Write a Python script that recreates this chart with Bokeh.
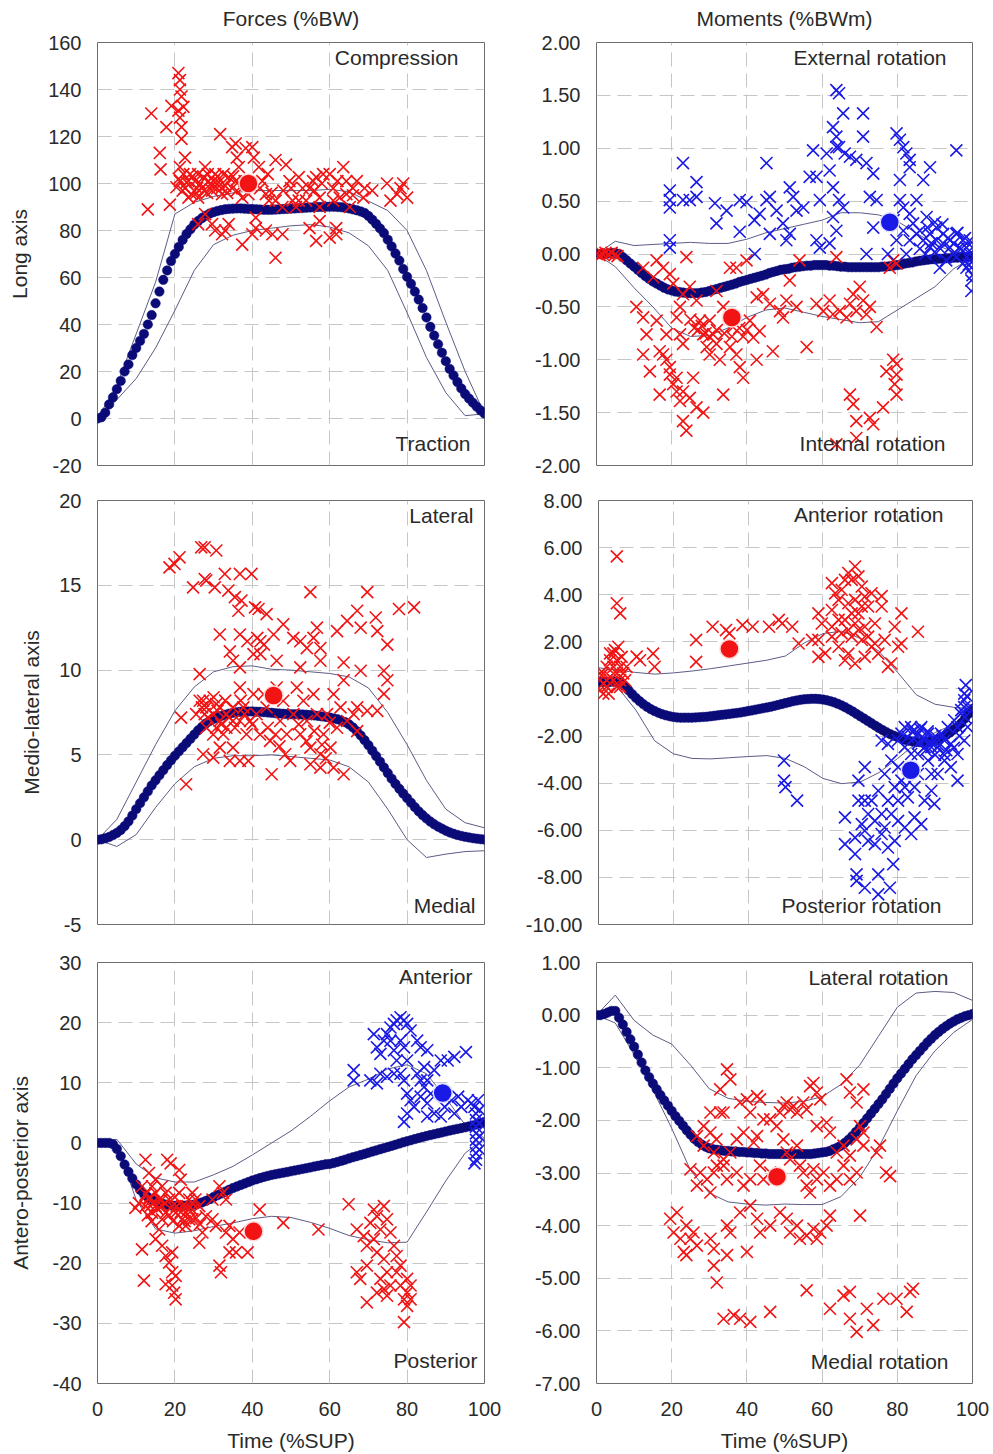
from bokeh.plotting import figure
from bokeh.layouts import column, row
from bokeh.models import Range1d, FixedTicker, NumeralTickFormatter, Label
from bokeh.embed import file_html
from bokeh.resources import INLINE

FONT = "Liberation Sans"
TXT = "#2a2a2a"

# ---------------- shared axes data ----------------
T = list(range(101))            # time grid of the mean curves (%SUP)
T5 = list(range(0, 101, 5))     # time grid of the +/- SD curves
X_TICKS = [0, 20, 40, 60, 80, 100]
COLUMN_TITLES = ["Forces (%BW)", "Moments (%BWm)"]

# ---------------- Panel 1: Forces, long axis ----------------
P1_MEAN = [0, 0.5, 2.5, 6, 9, 12.5, 16, 20, 23, 27,
           30, 33, 36, 40, 44, 49, 54, 59, 63, 67,
           70, 73, 76, 78.5, 80.5, 82.5, 84, 85.3, 86.3, 87.2,
           87.8, 88.3, 88.7, 89, 89.2, 89.3, 89.4, 89.4, 89.3, 89.2,
           89.1, 89, 88.9, 88.8, 88.8, 88.8, 88.9, 89, 89.1, 89.2,
           89.3, 89.4, 89.5, 89.6, 89.7, 89.8, 89.9, 90, 90, 90.1,
           90.1, 90.1, 90.0, 89.9, 89.7, 89.4, 89.0, 88.6, 88.1, 87.5,
           86.2, 84.6, 82.8, 80.9, 78.9, 76.1, 73.2, 70.2, 67.2, 63.6,
           60.3, 57.3, 54, 50.6, 47, 43, 39, 35.3, 31.6, 28,
           24.4, 21.1, 18.3, 15.5, 12.8, 10.4, 8.5, 6.7, 5.0, 3.4,
           2.1]
P1_UP = [0, 14, 36, 58, 87, 92, 94.5, 96, 97, 97, 97, 97, 97.5, 96.5, 92.5, 88.5, 80, 63, 41, 20, 2]
P1_LO = [0, 8, 17, 30, 46, 63, 74, 78, 80, 81, 82, 82.5, 81.5, 79, 73.5, 63, 45, 26, 11, 1.2, 2]
P1_RED = [(13.9, 129.8), (13, 89), (16.1, 113), (16.3, 106), (17.8, 124), (19.1, 133), (18.7, 91),
          (20.9, 147), (21.3, 144), (21.3, 140), (21.7, 137), (20.9, 131), (21.3, 128), (22.2, 132.6),
          (21.7, 124), (21.7, 119), (22.6, 111), (21.3, 107), (21.3, 101), (22.6, 98), (23.5, 94),
          (23.9, 104), (25.2, 101), (26, 104), (27, 98), (27.8, 107), (28.7, 101), (29.6, 97), (30.4, 104),
          (31.3, 100.5), (31.7, 121), (32.2, 95.5), (33, 99), (33.9, 102.7), (34.8, 115.5), (35.7, 117),
          (36, 111), (36.5, 107), (37.4, 98), (38.3, 115), (40, 115.5), (40.4, 111), (41.7, 107),
          (42.6, 101), (43.5, 95.5), (44.3, 92.7), (46, 110), (48.7, 108), (49.6, 101), (50.4, 92.7),
          (51.3, 90), (52, 102.7), (53, 98), (53.9, 92.7), (55.7, 101), (56.5, 102.7), (57.4, 94),
          (58.3, 104), (60, 104), (60.9, 98), (62.6, 94), (63.5, 107), (64.3, 101), (66, 98), (67, 101),
          (68.7, 94), (74.8, 100), (75.7, 92.7), (77.4, 95.5), (78.3, 98), (79, 100), (80, 94),
          (26, 82.7), (27.8, 87), (29.6, 82.7), (30.4, 80), (32.2, 78.4), (33, 80), (33.9, 82.7),
          (37.4, 74), (40, 78.4), (40.9, 81), (40.9, 85.5), (43.5, 80), (45.2, 78.4), (46, 68.4),
          (47.8, 78.4), (54.8, 81), (56.5, 75.6), (57.4, 84), (60, 77), (61.7, 81), (61.7, 78.4),
          (20.4, 98.4), (22.2, 104), (23, 100.5), (24.3, 95.5), (25.7, 98), (26, 94), (27.4, 102.7),
          (28.3, 96), (30, 101), (30.9, 98), (32.6, 104), (34.8, 98), (35.7, 101), (37.4, 94), (39, 95.5),
          (46, 92.7), (47.8, 90), (52, 92.7), (54.8, 98), (57.4, 90), (60.9, 92.7), (65.2, 90), (64.3, 95.5),
          (21, 102), (22, 97), (23.5, 101), (24.5, 103), (25.5, 96), (26.5, 100), (27.5, 97), (28.5, 104),
          (29.5, 99), (31, 103), (32, 98), (33.5, 96), (35, 103), (36, 97), (38, 101), (42, 98), (44, 104),
          (45, 96), (48, 97), (50, 98), (56, 97), (58, 100), (62, 101), (66, 95), (69, 98), (71, 97)]
P1_BLUE = []
P1_RED_MEAN = (39, 100)
P1_BLUE_MEAN = None

# ---------------- Panel 2: Moments, long axis ----------------
P2_MEAN = [0, 0, 0, 0.005, 0.01, 0.01, 0.0, -0.03, -0.06, -0.09,
           -0.12, -0.15, -0.18, -0.21, -0.235, -0.26, -0.28, -0.30, -0.32, -0.335,
           -0.345, -0.355, -0.36, -0.365, -0.37, -0.37, -0.37, -0.37, -0.365, -0.36,
           -0.35, -0.34, -0.33, -0.32, -0.31, -0.30, -0.29, -0.28, -0.265, -0.255,
           -0.245, -0.235, -0.225, -0.215, -0.205, -0.195, -0.18, -0.17, -0.16, -0.15,
           -0.145, -0.14, -0.13, -0.125, -0.12, -0.115, -0.11, -0.11, -0.105, -0.105,
           -0.105, -0.105, -0.11, -0.11, -0.115, -0.12, -0.12, -0.125, -0.125, -0.125,
           -0.125, -0.125, -0.125, -0.125, -0.125, -0.125, -0.12, -0.12, -0.115, -0.11,
           -0.105, -0.1, -0.09, -0.085, -0.08, -0.07, -0.065, -0.06, -0.055, -0.05,
           -0.05, -0.045, -0.045, -0.04, -0.04, -0.035, -0.035, -0.03, -0.03, -0.025,
           -0.02]
P2_UP = [0, 0.12, 0.08, 0.09, 0.1, 0.11, 0.1, 0.1, 0.14, 0.2, 0.24, 0.28, 0.32, 0.39, 0.39, 0.37, 0.31, 0.2, 0.09, 0.02, 0]
P2_LO = [0, -0.12, -0.32, -0.5, -0.7, -0.78, -0.77, -0.7, -0.6, -0.53, -0.51, -0.55, -0.59, -0.62, -0.65, -0.64, -0.53, -0.42, -0.31, -0.14, -0.03]
P2_RED = [(0, 0), (0.8, -0.01), (1.6, 0), (2.4, 0.01), (3.2, 0), (4, 0.01), (4.8, -0.01), (5.6, -0.02),
          (10.6, -0.5), (12.4, -0.6), (13.3, -0.76), (12.4, -0.95), (14.2, -1.11), (16, -0.63), (16.8, -0.92),
          (16.8, -1.33), (17.7, -0.95), (18.6, -0.76), (18.6, -1.0), (19.5, -1.07), (19.5, -1.14), (20.4, -1.23),
          (21.3, -1.17), (21.3, -1.3), (22.2, -1.39), (23, -1.58), (23.9, -1.67), (23, -1.3), (24.8, -1.36),
          (26.6, -1.45), (28.4, -1.5), (25.7, -1.17), (23, -0.85), (22.2, -0.76), (21.3, -0.6), (22.2, -0.5),
          (23, -0.38), (20.4, -0.28), (19.5, -0.19), (17.7, -0.13), (16, -0.06), (12.4, -0.13), (15.1, -0.22),
          (23.9, -0.03), (24.8, -0.31), (26.6, -0.44), (27.5, -0.63), (28.4, -0.76), (29.3, -0.88),
          (30.1, -0.63), (31, -0.76), (30.1, -0.95), (31.9, -0.85), (32.8, -1.0), (33.7, -1.33), (31.9, -0.35),
          (33.7, -0.5), (35.5, -0.6), (35.5, -0.88), (36.3, -0.69), (37.2, -0.95), (38.1, -1.07), (39, -1.17),
          (37.2, -0.13), (35.5, -0.13), (39.9, -0.06), (40.8, -0.63), (41.7, -0.79), (42.6, -1.0),
          (43.4, -0.73), (42.6, -0.41), (44.3, -0.38), (46.1, -0.47), (46.9, -0.92), (48.8, -0.54),
          (49.6, -0.6), (50.5, -0.44), (53.2, -0.5), (51.4, -0.25), (54, -0.06), (55.9, -0.88), (58.5, -0.47),
          (60.3, -0.54), (62, -0.44), (62.9, -0.57), (64.7, -0.54), (66.5, -0.6), (67.4, -0.47), (68.3, -0.38),
          (69.1, -0.54), (70, -0.31), (70.9, -0.44), (71.8, -0.57), (72.7, -0.5), (74.5, -0.69), (67.4, -1.33),
          (68.3, -1.42), (69.1, -1.58), (72.7, -1.55), (73.6, -1.61), (63.8, -1.8), (69.1, -1.74),
          (76.2, -1.45), (77.1, -1.11), (78.9, -1.0), (79.8, -1.04), (79.8, -1.14), (79.3, -1.23),
          (79.8, -1.33), (78.9, -0.06), (78, -0.13), (79.8, -0.09), (63.8, -0.03),
          (26, -0.7), (27, -0.72), (28, -0.68), (29, -0.75), (25, -0.62), (30, -0.78), (32, -0.72),
          (34, -0.75), (36, -0.78), (38, -0.7), (39, -0.78), (40, -0.72)]
P2_BLUE = [(19.5, 0.60), (19.5, 0.51), (19.5, 0.44), (19.5, 0.13), (19.5, 0.06), (23, 0.86), (23, 0.51),
           (24.8, 0.51), (26.6, 0.68), (26.6, 0.54), (31.5, 0.48), (31.9, 0.29), (34.6, 0.41), (38.1, 0.51),
           (38.1, 0.21), (39.9, 0.49), (42.0, 0.32), (43.4, 0.38), (42.1, 0.0), (45.2, 0.86), (45.2, 0.51),
           (46.1, 0.54), (46.1, 0.19), (47.9, 0.41), (49.6, 0.29), (51.4, 0.63), (51.4, 0.19), (50.5, 0.13),
           (52.3, 0.54), (53.2, 0.41), (55, 0.44), (56.7, 0.73), (57.6, 0.98), (58.5, 0.73), (59.4, 0.51),
           (58.5, 0.13), (59.4, 0.06), (61.2, 0.95), (62, 0.79), (62.9, 0.63), (62.9, 0.35), (63.8, 1.55),
           (64.5, 1.52), (62.9, 1.2), (63.8, 1.11), (63.8, 1.01), (64.5, 1.01), (66, 0.95), (67.4, 0.92),
           (64.5, 0.51), (65.6, 0.44), (63.8, 0.22), (62, 0.10), (65.6, 1.33), (69.1, 0.89), (70.9, 1.33),
           (70.9, 1.11), (71.8, 0.86), (73.6, 0.76), (72.7, 0.54), (74.5, 0.51), (71.8, 0.0), (73.6, 0.25),
           (79, 0.32), (79.8, 1.14), (80.7, 1.08), (81.6, 1.01), (82.4, 0.95), (83.3, 0.89), (83.3, 0.82),
           (80.7, 0.70), (80.7, 0.51), (81.6, 0.44), (83.3, 0.38), (85.1, 0.51), (86.9, 0.70), (88.7, 0.82),
           (84.2, 0.29), (86, 0.22), (87.8, 0.35), (88.7, 0.19), (90.4, 0.25), (92.2, 0.19), (94, 0.13),
           (95.7, 0.98), (95.7, 0.19), (97.5, 0.13), (98.4, 0.06), (99.3, 0.0), (99.7, -0.13), (99.7, -0.25),
           (99.7, -0.35), (97.5, -0.09), (95.7, -0.03), (94, 0.06), (92.2, 0.10), (90.4, 0.13), (88.7, 0.06),
           (86.9, 0.13), (85.1, 0.19), (83.3, 0.13), (81.6, 0.22), (79.8, 0.13), (82.4, 0.0), (77.5, 0.0),
           (91.3, -0.13), (93, -0.06), (99.3, -0.06), (98.4, -0.13), (96.5, 0.06), (94.9, 0.0), (99.3, 0.13),
           (100, 0.06), (86, 0.05), (87.5, 0.0), (89, 0.1), (90, 0.02), (91.5, 0.05), (93.5, 0.15), (95, 0.1),
           (96, 0.2), (97, 0.05), (98, 0.15), (99, -0.1), (100, -0.2), (88, 0.25), (90, 0.3), (92, 0.28)]
P2_RED_MEAN = (36, -0.6)
P2_BLUE_MEAN = (78, 0.30)

# ---------------- Panel 3: Forces, medio-lateral axis ----------------
P3_MEAN = [0, 0.02, 0.08, 0.16, 0.27, 0.4, 0.57, 0.8, 1.08, 1.42,
           1.8, 2.15, 2.5, 2.85, 3.2, 3.5, 3.8, 4.1, 4.4, 4.68,
           4.95, 5.2, 5.45, 5.7, 5.95, 6.2, 6.45, 6.65, 6.85, 7.0,
           7.12, 7.22, 7.3, 7.37, 7.43, 7.48, 7.52, 7.54, 7.55, 7.56,
           7.56, 7.55, 7.54, 7.52, 7.5, 7.48, 7.46, 7.44, 7.42, 7.41,
           7.4, 7.4, 7.39, 7.38, 7.37, 7.35, 7.33, 7.3, 7.27, 7.24,
           7.2, 7.15, 7.1, 7.02, 6.93, 6.8, 6.62, 6.4, 6.15, 5.87,
           5.57, 5.25, 4.93, 4.6, 4.26, 3.93, 3.6, 3.29, 3.0, 2.72,
           2.45, 2.18, 1.92, 1.67, 1.45, 1.25, 1.07, 0.91, 0.77, 0.65,
           0.53, 0.43, 0.35, 0.28, 0.22, 0.17, 0.13, 0.09, 0.06, 0.03,
           0.01]
P3_UP = [0, 1.2, 3.4, 5.6, 7.6, 9.0, 9.9, 10.2, 10.25, 10.05, 10.0, 9.9, 9.8, 9.6, 8.95, 7.5, 5.6, 3.5, 1.8, 1.0, 0.7]
P3_LO = [0, -0.4, 0.3, 1.9, 3.3, 4.3, 4.8, 4.95, 4.95, 5.0, 4.9, 4.8, 4.7, 4.3, 3.4, 1.8, 0.0, -1.05, -0.85, -0.7, -0.65]
P3_RED = [(18.6, 16.06), (19.9, 16.26), (21.2, 16.65), (26.8, 17.24), (27.7, 17.24), (30.7, 17.05), (24.7, 14.88),
          (27.7, 15.37), (28.1, 15.28), (30.3, 14.88), (32.9, 15.67), (36.8, 15.67), (39.8, 15.67), (33.8, 14.69),
          (35.5, 14.3), (37.2, 14.1), (36.4, 13.5), (40.7, 13.7), (41.6, 13.6), (43.7, 13.3), (31.6, 12.1),
          (36.8, 12.1), (38.7, 11.7), (41.3, 11.9), (42.1, 11.7), (43, 11.5), (45.5, 12.1), (48, 12.7),
          (42.1, 10.94), (40.3, 10.94), (34.2, 11.1), (35, 10.55), (36.8, 10.16), (46.3, 10.55), (50.6, 11.9),
          (52.4, 11.7), (54.1, 11.3), (55.8, 11.9), (56.7, 12.5), (57.6, 11.3), (55, 14.6), (52.4, 10.16),
          (57.6, 10.55), (61.9, 12.3), (64.5, 12.9), (67.1, 13.5), (68, 12.5), (69.7, 14.6), (71.9, 13.1),
          (72.3, 12.3), (74.9, 11.5), (63.6, 10.45), (68, 9.96), (63.6, 9.4), (74, 9.96), (74.9, 9.4),
          (77.9, 13.6), (81.8, 13.7), (74, 8.6), (69.7, 7.6), (72.3, 7.6), (67.1, 6.4), (63.6, 3.86),
          (21.6, 7.2), (22.9, 3.27), (26.4, 9.76), (27.3, 8.19), (28.1, 7.8), (29, 8.19), (29.9, 7.4),
          (30.7, 8), (31.6, 7.0), (28.1, 6.6), (29.9, 6.2), (27.3, 5.04), (29.9, 4.84), (31.6, 5.43),
          (33.3, 6.6), (35, 7.0), (34.2, 4.65), (36.8, 8.97), (37.7, 7.8), (38.5, 6.22), (39.4, 7.0),
          (39, 4.65), (40.3, 8.58), (41.1, 7.4), (42, 6.2), (42.9, 8.58), (43.7, 7.8), (44.6, 5.83),
          (45, 3.86), (46.3, 8.97), (47.2, 7.0), (48, 8.19), (48.5, 5.04), (48.9, 6.22), (49.8, 4.65),
          (50.6, 7.4), (51.5, 8.97), (52.4, 6.22), (53.2, 8.19), (54.1, 7.0), (55, 5.43), (55.8, 8.58),
          (56.7, 7.4), (57.6, 5.04), (58.4, 6.22), (57.6, 4.25), (59.3, 7.4), (60.2, 5.43), (61, 8.58),
          (61.9, 6.6), (62.8, 7.8), (64.5, 7.0), (66.2, 7.4), (67.1, 7.8), (61, 4.25), (55, 4.45),
          (26.4, 8.19), (27.7, 7.4), (31.6, 7.8), (33.3, 7.4), (35, 7.8), (36.8, 7.0), (30.7, 6.6),
          (32.5, 6.22), (25.5, 7.4), (35, 5.43), (36.8, 4.65),
          (27, 7.8), (28.5, 7.2), (30, 8.4), (31, 7.6), (32, 6.8), (33, 8.2), (34, 7.2), (35.5, 6.6),
          (37, 8.2), (38, 7.4), (40, 6.8), (44, 6.6), (46, 6.2), (47, 5.5), (52, 6.8), (54, 5.8),
          (56, 6.4), (58, 5.6), (59, 4.8), (60, 6.9)]
P3_BLUE = []
P3_RED_MEAN = (45.5, 8.5)
P3_BLUE_MEAN = None

# ---------------- Panel 4: Moments, medio-lateral axis ----------------
P4_MEAN = [0.3, 0.3, 0.3, 0.3, 0.32, 0.3, 0.25, 0.12, -0.05, -0.22,
           -0.38, -0.52, -0.65, -0.76, -0.86, -0.94, -1.01, -1.07, -1.12, -1.16,
           -1.19, -1.21, -1.22, -1.22, -1.22, -1.22, -1.21, -1.2, -1.19, -1.18,
           -1.16, -1.14, -1.12, -1.1, -1.08, -1.06, -1.04, -1.02, -1.0, -0.97,
           -0.94, -0.91, -0.88, -0.85, -0.82, -0.79, -0.76, -0.72, -0.68, -0.64,
           -0.6, -0.56, -0.52, -0.49, -0.46, -0.44, -0.43, -0.42, -0.42, -0.43,
           -0.45, -0.48, -0.52, -0.57, -0.63, -0.7, -0.78, -0.87, -0.96, -1.06,
           -1.16, -1.26, -1.36, -1.46, -1.56, -1.66, -1.75, -1.84, -1.92, -1.99,
           -2.05, -2.11, -2.16, -2.2, -2.23, -2.25, -2.26, -2.26, -2.25, -2.22,
           -2.18, -2.12, -2.04, -1.95, -1.85, -1.73, -1.6, -1.45, -1.25, -1.05,
           -0.85]
P4_UP = [0.9, 0.8, 0.7, 0.63, 0.68, 0.76, 0.86, 0.98, 1.1, 1.22, 1.4, 1.95, 2.35, 2.45, 2.15, 1.6, 0.7, -0.25, -0.65, -0.78, -0.84]
P4_LO = [0.2, 0.1, -0.9, -2.2, -2.75, -2.95, -2.97, -2.92, -2.87, -2.83, -2.95, -3.3, -3.8, -4.02, -3.95, -3.55, -2.95, -2.3, -1.85, -1.5, -1.05]
P4_RED = [(4.9, 5.63), (4.9, 3.64), (5.8, 3.21), (5.3, 1.79),
          (0.4, 0.37), (1.3, 0.66), (2.2, 0.94), (3.1, 1.22), (4, 1.51), (4.9, 1.22), (5.8, 0.94), (6.6, 0.66),
          (2.2, 0.09), (4, 0.37), (5.8, 0.09), (0.4, -0.06), (1.3, 0.23), (3.1, 0.51), (4.9, 0.66), (4, 0.94),
          (3.1, 1.51), (4.4, 1.65), (2.2, 0.37), (5.8, 0.37), (7.1, 0.37), (7.5, 0.94), (0.4, 0.66), (1.3, -0.2),
          (4.9, 0.09), (2.7, -0.2), (6.2, 1.36),
          (11.1, 1.22), (10.2, 1.37), (14.6, 1.5), (15, 0.94), (26.1, 2.08), (26.1, 1.15), (30.5, 2.64),
          (34.1, 2.5), (35, 2.36), (38.5, 2.71), (41.2, 2.64), (45.6, 2.64), (48.2, 2.93), (49.1, 2.78),
          (51.8, 2.64), (53.5, 1.93), (57.1, 2.08), (58.8, 3.21), (59.7, 2.78), (58.8, 1.36),
          (62.4, 4.49), (63.3, 4.06), (64.2, 3.78), (65, 4.21), (65.9, 4.63), (66.8, 4.92), (67.7, 4.63),
          (68.6, 5.2), (69.5, 4.78), (70.4, 4.35), (71.2, 3.92), (66.8, 3.64), (67.7, 3.21), (68.6, 3.78),
          (70.4, 3.5), (64.2, 2.93), (62.4, 2.64), (65, 2.36), (66.8, 2.5), (67.7, 2.22), (69.5, 2.5),
          (70.4, 2.08), (71.2, 2.64), (72.1, 2.22), (73, 1.79), (74.8, 1.5), (73.9, 2.78), (75.7, 3.94),
          (75.7, 3.5), (64.2, 1.79), (65.9, 1.22), (66.8, 1.5), (68.6, 1.08), (71.2, 1.36), (73.9, 1.93),
          (76.5, 2.08), (78.3, 1.08), (77.4, 0.94), (79.2, 2.64), (81, 3.21), (80.1, 1.79), (81, 1.93),
          (85.4, 2.43), (58.8, 2.08), (60.6, 1.51), (62.4, 2.22), (65.9, 2.93), (68.6, 2.78), (69.5, 3.21),
          (72.1, 3.5), (73, 4.06), (62.4, 3.35)]
P4_BLUE = [(49.6, -3.04), (49.6, -3.89), (50, -4.17), (53.1, -4.74), (69.5, -3.89), (71.2, -3.32), (69.5, -4.74),
           (65.9, -5.45), (65.9, -6.59), (68.6, -6.31), (68.6, -7.01), (69, -7.87), (69, -8.15), (71.2, -8.44),
           (74.8, -7.87), (74.8, -8.72), (77.9, -8.44), (78.8, -7.44), (76.5, -5.88), (73.9, -6.59),
           (72.1, -5.31), (71.2, -6.02), (73, -4.74), (74.8, -4.32), (76.5, -3.61), (75.7, -2.19),
           (77.4, -2.33), (78.3, -3.04), (80.1, -3.32), (81, -3.89), (81.9, -4.17), (80.1, -4.74),
           (78.3, -5.31), (80.1, -5.6), (81.9, -5.88), (83.6, -6.16), (79.2, -6.45), (77.4, -6.73),
           (75.7, -6.16), (75.7, -5.31), (73.9, -5.6), (72.1, -6.45), (70.4, -5.74), (71.2, -4.74),
           (77.4, -4.74), (79.2, -4.17), (82.7, -4.6), (84.5, -4.17), (85.4, -3.61), (86.3, -5.74),
           (84.5, -5.45), (87.2, -4.74), (89, -4.32), (89.8, -4.88), (89, -3.61), (90.7, -3.61),
           (92.5, -3.04), (94.2, -3.32), (96, -2.76), (96, -3.89), (97.8, -2.19), (98.7, -1.62),
           (96.9, -1.05), (97.8, -0.48), (97.8, -0.2), (98.2, 0.16), (97.8, -0.77), (96, -1.62),
           (94.2, -2.33), (92.5, -2.19), (90.7, -2.47), (89, -2.47), (87.2, -2.19), (85.4, -1.9),
           (83.6, -1.62), (81.9, -1.62), (81, -1.9), (82.7, -2.04), (84.5, -1.76), (86.3, -1.62),
           (88.1, -1.9), (89.8, -2.19), (91.6, -1.9), (93.4, -1.62), (95.1, -1.33), (87.2, -2.47),
           (85.4, -2.76), (88.1, -3.04), (83.6, -2.76), (81.9, -2.47), (80.1, -2.19),
           (84, -1.8), (85, -2.0), (86, -1.7), (87, -2.1), (88, -1.8), (89, -2.3), (90, -2.0), (91, -2.4),
           (92, -2.0), (93, -2.6), (85.5, -2.3), (87.5, -2.6), (90, -2.8), (92.5, -2.8), (95, -2.5),
           (96.5, -2.0), (98, -1.2), (99, -0.8), (98.5, -0.3), (97, -0.9)]
P4_RED_MEAN = (35, 1.7)
P4_BLUE_MEAN = (83.5, -3.45)

# ---------------- Panel 5: Forces, antero-posterior axis ----------------
P5_MEAN = [0, 0, 0, 0, -0.2, -1.0, -2.2, -3.6, -4.8, -5.9,
           -6.9, -7.8, -8.5, -9.0, -9.4, -9.7, -9.95, -10.15, -10.3, -10.4,
           -10.45, -10.45, -10.45, -10.4, -10.35, -10.25, -10.1, -9.9, -9.65, -9.35,
           -9.0, -8.7, -8.4, -8.1, -7.8, -7.5, -7.25, -7.0, -6.75, -6.5,
           -6.25, -6.05, -5.85, -5.65, -5.48, -5.33, -5.2, -5.08, -4.96, -4.84,
           -4.71, -4.58, -4.46, -4.33, -4.2, -4.07, -3.94, -3.81, -3.68, -3.55,
           -3.5, -3.35, -3.17, -2.98, -2.78, -2.57, -2.38, -2.2, -2.02, -1.83,
           -1.63, -1.44, -1.25, -1.06, -0.87, -0.68, -0.49, -0.3, -0.1, 0.1,
           0.28, 0.46, 0.64, 0.82, 0.99, 1.15, 1.3, 1.45, 1.6, 1.75,
           1.9, 2.05, 2.2, 2.33, 2.46, 2.6, 2.75, 2.9, 3.07, 3.27,
           3.5]
P5_UP = [0, 0.6, -3.5, -5.8, -6.5, -6.5, -5.3, -3.9, -2.0, 0.0, 2.0, 4.4, 7.0, 9.3, 10.6, 12.3, 13.0, 11.5, 7.5, 3.0, 0.8]
P5_LO = [0, 0.0, -9.5, -14.3, -15.0, -14.6, -13.9, -13.3, -12.6, -12.2, -12.4, -13.2, -14.2, -15.4, -16.1, -16.6, -16.5, -11.5, -6.3, -1.7, 0.8]
P5_RED = [(9.8, -10.8), (11.5, -7.2), (11.5, -17.7), (12, -22.9), (12.4, -2.8), (13.3, -5), (14.1, -7.2),
          (13.3, -9.4), (12.4, -10.5), (15, -6.1), (15.9, -9.4), (14.1, -11.6), (16.7, -12.7), (15, -16),
          (15.9, -14.4), (16.7, -17.1), (17.6, -18.8), (18, -2.8), (18.9, -3.4), (17.6, -8.3), (19.3, -10.5),
          (19.3, -18.2), (18.5, -19.9), (19.3, -21.5), (19.3, -23.7), (17.6, -23.5), (19.8, -24.9), (20.2, -26),
          (20.2, -22.1), (21.1, -4.5), (21.5, -6.1), (21.1, -8.3), (21.9, -10.5), (22.8, -11.6), (23.7, -9.4),
          (24.5, -8.3), (22.8, -13.8), (21.1, -13.8), (24.5, -12.7), (26.3, -10.5), (28, -12.2), (27.1, -14.9),
          (26.3, -16.6), (29.7, -12.7), (29.7, -9.4), (31.5, -7.2), (32.4, -8.3), (33.2, -9.4), (30.6, -13.8),
          (31.5, -20.4), (31.9, -21.5), (33.2, -14.9), (34.1, -13.8), (35, -16), (34.1, -18.2), (35.8, -18.2),
          (36.7, -14.9), (38.8, -18.2), (41.9, -11.1), (48, -13.3), (57.1, -14.4), (64.9, -10.2), (67, -21.5),
          (67.9, -22.6), (69.6, -26.5), (67, -14.4), (68.8, -15.5), (70.5, -13.3), (71.4, -11.1), (72.2, -12.2),
          (73.1, -14.4), (74, -10.5), (74.8, -12.7), (75.7, -14.9), (76.6, -17.1), (71.4, -16), (69.6, -17.1),
          (72.2, -18.2), (74, -19.3), (74.8, -21.5), (73.1, -22.6), (74, -24.3), (72.2, -24.9), (74.8, -25.4),
          (75.7, -23.7), (77.3, -18.8), (78.3, -20.4), (77.3, -21.5), (78.3, -23.7), (79.2, -26), (80, -27.1),
          (80, -24.9), (80, -22.6), (79.2, -29.8), (80.9, -26), (80.9, -23.7), (69.6, -20.4),
          (10.7, -10), (13.7, -10.5), (15, -10.5), (16.7, -10.5), (17.6, -11.6), (18.5, -9.4), (20.2, -11.6),
          (21.9, -12.7), (22.8, -10.5), (23.7, -12.7), (24.5, -11.1), (25.3, -9.4), (15, -8.3), (16.7, -7.2),
          (12.5, -8.5), (13.5, -9), (14.5, -9.8), (15.5, -11), (16.5, -9.5), (17.5, -10), (18.5, -12),
          (19.5, -13), (20.5, -10.5), (21.5, -11.5), (22.5, -13), (23.5, -11), (24.5, -10), (25.5, -12.5),
          (26.5, -13.5), (20, -9), (13, -12), (14, -13)]
P5_BLUE = [(66.2, 12.1), (66.2, 10.4), (70.5, 10.4), (72.2, 9.9), (71.4, 18.1), (72.2, 15.9), (73.1, 14.8),
           (73.1, 11.5), (74, 17), (74.8, 18.1), (75.7, 19.2), (76.6, 19.8), (77.3, 20.4), (78.3, 20.9),
           (79.2, 20.4), (80, 19.8), (80.9, 18.7), (75.7, 17), (76.6, 15.4), (77.3, 13.7), (78.3, 17),
           (79.2, 15.9), (80, 13.7), (76.6, 11.5), (74.8, 11), (78.3, 11.5), (79.2, 10.4), (80, 8.2),
           (80.9, 7.1), (81.8, 6), (80, 4.9), (79.2, 3.5), (82.6, 17), (83.5, 15.9), (85.2, 15.4), (84.4, 12.6),
           (82.6, 11.5), (83.5, 10.4), (85.2, 10.4), (87, 12.1), (88.7, 13.7), (90.5, 13.7), (92.2, 14.3),
           (95.2, 15.1), (84.4, 9.3), (86.1, 8.2), (83.5, 7.7), (85.2, 6.6), (85.2, 4.4), (87, 4.9), (89.7, 6),
           (91.5, 7.1), (93.2, 7.7), (88.7, 4.4), (92.2, 4.9), (94, 6), (95.7, 7.1), (96.6, 6.6), (97.4, 6),
           (97.8, 4.9), (97.8, 3.8), (97.8, 2.7), (97.8, 1.6), (97.8, 0.5), (97.8, -0.6), (97.8, -1.7),
           (97.8, -2.8), (98.3, 7.1), (98.7, 5.5), (98.7, 3.3), (98.7, 1.1), (98.7, -1.1), (97.4, -3.4)]
P5_RED_MEAN = (40.3, -14.7)
P5_BLUE_MEAN = (89.2, 8.3)

# ---------------- Panel 6: Moments, antero-posterior axis ----------------
P6_MEAN = [0, 0, 0.02, 0.05, 0.08, 0.08, -0.05, -0.18, -0.32, -0.46,
           -0.6, -0.75, -0.9, -1.05, -1.18, -1.3, -1.41, -1.52, -1.62, -1.72,
           -1.82, -1.92, -2.01, -2.1, -2.19, -2.27, -2.35, -2.41, -2.46, -2.5,
           -2.53, -2.55, -2.56, -2.57, -2.58, -2.58, -2.59, -2.59, -2.6, -2.6,
           -2.61, -2.61, -2.62, -2.62, -2.63, -2.63, -2.64, -2.64, -2.64, -2.64,
           -2.64, -2.64, -2.64, -2.64, -2.64, -2.64, -2.64, -2.64, -2.63, -2.62,
           -2.61, -2.6, -2.58, -2.55, -2.52, -2.48, -2.43, -2.37, -2.3, -2.22,
           -2.14, -2.05, -1.96, -1.87, -1.78, -1.69, -1.6, -1.5, -1.4, -1.3,
           -1.2, -1.11, -1.02, -0.93, -0.84, -0.76, -0.68, -0.6, -0.52, -0.45,
           -0.38, -0.32, -0.26, -0.21, -0.16, -0.12, -0.08, -0.05, -0.02, 0.0,
           0.02]
P6_UP = [0, 0.38, -0.1, -0.38, -0.55, -0.95, -1.4, -1.58, -1.64, -1.66, -1.67, -1.64, -1.55, -1.32, -0.95, -0.4, 0.15, 0.42, 0.45, 0.43, 0.28]
P6_LO = [0, -0.15, -0.75, -1.42, -2.15, -2.95, -3.38, -3.55, -3.59, -3.61, -3.59, -3.6, -3.6, -3.45, -3.08, -2.52, -1.82, -1.15, -0.68, -0.33, -0.08]
P6_RED = [(34.7, -1.03), (35.6, -1.22), (32.9, -1.41), (30.3, -1.85), (32.9, -1.85), (33.8, -1.85), (26.7, -2.3),
          (28.5, -2.11), (30.3, -2.23), (31.9, -2.36), (28.5, -2.48), (31.2, -2.61), (33.8, -2.74), (35.6, -2.61),
          (37.3, -2.36), (39.1, -2.23), (38.2, -1.66), (40, -1.6), (40.9, -1.85), (42.7, -1.54), (43.5, -1.6),
          (44.4, -1.98), (42.7, -2.3), (41.8, -2.42), (46.2, -1.98), (47.9, -2.11), (48.8, -1.85), (49.7, -1.73),
          (50.6, -1.66), (51.5, -1.79), (52.4, -1.73), (53.3, -1.85), (55, -1.66), (55.9, -1.79), (56.8, -1.35),
          (57.7, -1.29), (58.6, -1.47), (59.5, -1.6), (58.6, -2.11), (61.2, -2.04), (62.1, -2.23), (66.5, -1.22),
          (67.4, -1.47), (69.2, -1.66), (71, -1.41), (70.1, -2.11), (71, -2.23), (69.2, -2.36), (65.7, -2.48),
          (63.9, -2.61), (67.4, -2.67), (71, -2.48), (75.4, -2.48), (74.5, -2.61), (77, -2.99), (78.1, -3.06),
          (70.1, -3.81), (25, -2.93), (26.7, -3.24), (27.6, -2.99), (29.4, -3.12), (30.3, -3.37), (31.2, -2.99),
          (32, -2.86), (33.8, -2.86), (34.7, -3.12), (37.3, -2.99), (39.1, -3.24), (40.9, -3.12), (43.5, -2.86),
          (44.4, -3.12), (46.2, -2.99), (49.7, -2.36), (50.6, -2.61), (51.5, -2.74), (53.3, -2.48), (54.1, -2.86),
          (55, -2.99), (55.9, -3.24), (56.8, -3.37), (57.7, -2.93), (58.6, -3.12), (60.4, -2.99), (62.1, -3.24),
          (63.9, -3.12), (65.7, -2.86), (67.4, -3.12), (69.2, -2.99), (19.6, -3.87), (21.4, -3.75), (20.5, -4.13),
          (22.3, -4.25), (23.2, -4.5), (23.9, -4.0), (25, -4.25), (25.8, -4.13), (26.7, -4.38), (23.9, -4.56),
          (30.3, -4.25), (31.2, -4.44), (31.2, -4.76), (32, -5.08), (34.7, -4.0), (35.6, -4.13), (34.7, -4.56),
          (40, -4.5), (38.2, -3.75), (40.9, -3.62), (42.7, -3.87), (43.5, -4.13), (46.2, -4.0), (48.8, -3.75),
          (50.6, -3.87), (51.5, -4.13), (53.3, -4.0), (54.1, -4.25), (55.9, -4.19), (57.7, -4.06), (58.6, -4.25),
          (59.5, -4.13), (61.2, -4.0), (62.1, -3.81), (33.8, -5.77), (36.5, -5.7), (38.2, -5.77), (40.9, -5.83),
          (46.2, -5.64), (55.9, -5.23), (62.1, -5.58), (65.7, -5.33), (67.4, -5.26), (67.4, -5.77), (69.2, -6.02),
          (71.9, -5.58), (73.6, -5.89), (76.3, -5.39), (79.8, -5.39), (82.5, -5.64), (83.4, -5.26), (84.2, -5.2)]
P6_BLUE = []
P6_RED_MEAN = (48, -3.07)
P6_BLUE_MEAN = None

# ---------------- panel descriptions ----------------
PANELS = [
    dict(row=0, col=0, ymin=-20, ymax=160, yticks=[-20, 0, 20, 40, 60, 80, 100, 120, 140, 160], fmt="0",
         mean=P1_MEAN, up=P1_UP, lo=P1_LO, red=P1_RED, blue=P1_BLUE, rm=P1_RED_MEAN, bm=P1_BLUE_MEAN,
         top=("Compression", 26, 15), bot=("Traction", 14, 22), ylabel="Long axis", ylstand=14),
    dict(row=0, col=1, ymin=-2, ymax=2, yticks=[-2, -1.5, -1, -0.5, 0, 0.5, 1, 1.5, 2], fmt="0.00",
         mean=P2_MEAN, up=P2_UP, lo=P2_LO, red=P2_RED, blue=P2_BLUE, rm=P2_RED_MEAN, bm=P2_BLUE_MEAN,
         top=("External rotation", 26, 15), bot=("Internal rotation", 27, 22), ylabel=None, ylstand=0),
    dict(row=1, col=0, ymin=-5, ymax=20, yticks=[-5, 0, 5, 10, 15, 20], fmt="0",
         mean=P3_MEAN, up=P3_UP, lo=P3_LO, red=P3_RED, blue=P3_BLUE, rm=P3_RED_MEAN, bm=P3_BLUE_MEAN,
         top=("Lateral", 11, 15), bot=("Medial", 9, 19), ylabel="Medio-lateral axis", ylstand=13),
    dict(row=1, col=1, ymin=-10, ymax=8, yticks=[-10, -8, -6, -4, -2, 0, 2, 4, 6, 8], fmt="0.00",
         mean=P4_MEAN, up=P4_UP, lo=P4_LO, red=P4_RED, blue=P4_BLUE, rm=P4_RED_MEAN, bm=P4_BLUE_MEAN,
         top=("Anterior rotation", 29, 14), bot=("Posterior rotation", 31, 19), ylabel=None, ylstand=0),
    dict(row=2, col=0, ymin=-40, ymax=30, yticks=[-40, -30, -20, -10, 0, 10, 20, 30], fmt="0",
         mean=P5_MEAN, up=P5_UP, lo=P5_LO, red=P5_RED, blue=P5_BLUE, rm=P5_RED_MEAN, bm=P5_BLUE_MEAN,
         top=("Anterior", 12, 14), bot=("Posterior", 7, 23), ylabel="Antero-posterior axis", ylstand=18),
    dict(row=2, col=1, ymin=-7, ymax=1, yticks=[-7, -6, -5, -4, -3, -2, -1, 0, 1], fmt="0.00",
         mean=P6_MEAN, up=P6_UP, lo=P6_LO, red=P6_RED, blue=P6_BLUE, rm=P6_RED_MEAN, bm=P6_BLUE_MEAN,
         top=("Lateral rotation", 24, 15), bot=("Medial rotation", 24, 22), ylabel=None, ylstand=0),
]

TITLE_H = 30                  # height of the strip that carries the column titles
ROW_TOP = [12, 20, 23]
ROW_FRAME = [423, 424, 424]
ROW_BOTTOM = [15, 15, 68]
COL_W = [522, 471]
COL_BL = [97, 74]
COL_BR = [38, 21]

RED = "#f21414"
BLUE = "#1a1ae6"
NAVY = "#0b0b78"
SDC = "#5c5c86"


def title_strip(c):
    p = figure(width=COL_W[c], height=TITLE_H, x_range=Range1d(0, 100), y_range=Range1d(0, TITLE_H),
               output_backend="svg", toolbar_location=None, title=None,
               min_border_left=COL_BL[c], min_border_right=COL_BR[c], min_border_top=0, min_border_bottom=0,
               background_fill_color="white", border_fill_color="white")
    p.axis.visible = False
    p.grid.visible = False
    p.outline_line_color = None
    p.add_layout(Label(x=50, y=TITLE_H, y_offset=-18, text=COLUMN_TITLES[c], text_align="center",
                       text_baseline="middle", text_font=FONT, text_font_size="21px", text_color=TXT))
    return p


def build(s):
    c = s["col"]
    r = s["row"]
    p = figure(
        width=COL_W[c],
        height=ROW_TOP[r] + ROW_FRAME[r] + ROW_BOTTOM[r],
        x_range=Range1d(0, 100), y_range=Range1d(s["ymin"], s["ymax"]),
        output_backend="svg", toolbar_location=None, title=None,
        min_border_left=COL_BL[c], min_border_right=COL_BR[c],
        min_border_top=ROW_TOP[r], min_border_bottom=ROW_BOTTOM[r],
        background_fill_color="white", border_fill_color="white",
    )
    p.outline_line_color = "#6e6e6e"
    p.outline_line_width = 1

    yt = FixedTicker(ticks=s["yticks"])
    xt = FixedTicker(ticks=X_TICKS)
    p.yaxis.ticker = yt
    p.ygrid.ticker = yt
    p.xaxis.ticker = xt
    p.xgrid.ticker = xt
    p.yaxis.formatter = NumeralTickFormatter(format=s["fmt"])
    p.xaxis.formatter = NumeralTickFormatter(format="0")
    p.grid.grid_line_color = "#c6c6c6"
    p.grid.grid_line_dash = "14 7"
    p.grid.grid_line_width = 1

    for ax in [p.xaxis[0], p.yaxis[0]]:
        ax.axis_line_color = None
        ax.major_tick_line_color = None
        ax.minor_tick_line_color = None
        ax.major_label_text_font = FONT
        ax.major_label_text_font_size = "20px"
        ax.major_label_text_color = TXT
        ax.axis_label_text_font = FONT
        ax.axis_label_text_font_size = "21px"
        ax.axis_label_text_font_style = "normal"
        ax.axis_label_text_color = TXT
    p.yaxis.major_label_standoff = 10
    if s["ylabel"]:
        p.yaxis.axis_label = s["ylabel"]
        p.yaxis.axis_label_standoff = s["ylstand"]
    if r == 2:
        p.xaxis.axis_label = "Time (%SUP)"
        p.xaxis.major_label_standoff = 12
        p.xaxis.axis_label_standoff = 10
    else:
        p.xaxis.visible = False

    # +/- SD envelopes
    p.line(T5, s["up"], line_color=SDC, line_width=1)
    p.line(T5, s["lo"], line_color=SDC, line_width=1)
    # mean curve
    p.scatter(T, s["mean"], size=9.5, fill_color=NAVY, line_color=NAVY, line_width=0.5)
    # individual peaks
    if s["red"]:
        p.scatter([q[0] for q in s["red"]], [q[1] for q in s["red"]], marker="x", size=17,
                  line_color=RED, line_width=1.6)
    if s["blue"]:
        p.scatter([q[0] for q in s["blue"]], [q[1] for q in s["blue"]], marker="x", size=17,
                  line_color=BLUE, line_width=1.6)
    # means of peaks
    if s["rm"]:
        p.scatter([s["rm"][0]], [s["rm"][1]], size=19, fill_color=RED, line_color="#ffd8d8", line_width=1.5)
    if s["bm"]:
        p.scatter([s["bm"][0]], [s["bm"][1]], size=19, fill_color=BLUE, line_color="#e0e0ff", line_width=1.5)

    tt, tx, ty = s["top"]
    bt, bx, by = s["bot"]
    p.add_layout(Label(x=100, y=s["ymax"], x_offset=-tx, y_offset=-ty, text=tt, text_align="right",
                       text_baseline="middle", text_font=FONT, text_font_size="21px", text_color=TXT))
    p.add_layout(Label(x=100, y=s["ymin"], x_offset=-bx, y_offset=by, text=bt, text_align="right",
                       text_baseline="middle", text_font=FONT, text_font_size="21px", text_color=TXT))
    return p


for s in PANELS:
    assert len(s["mean"]) == 101, len(s["mean"])
    assert len(s["up"]) == 21 and len(s["lo"]) == 21

figs = [build(s) for s in PANELS]
layout = column(row(title_strip(0), title_strip(1)),
                row(figs[0], figs[1]), row(figs[2], figs[3]), row(figs[4], figs[5]))

html = file_html(layout, INLINE, title="Peaks")
html = html.replace("<head>", "<head><style>html,body{margin:0;padding:0;}</style>", 1)
open("out.html", "w").write(html)
